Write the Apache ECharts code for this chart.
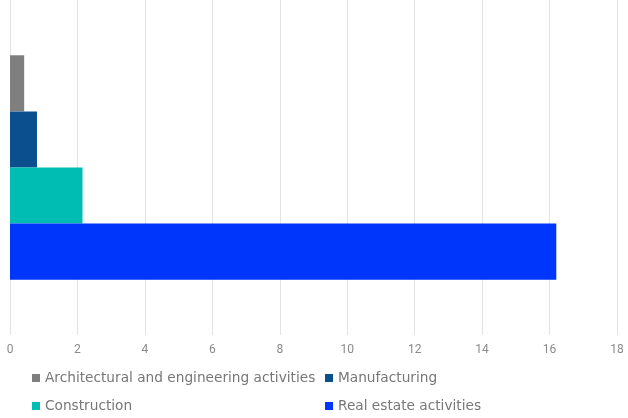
<!DOCTYPE html>
<html><head><meta charset="utf-8">
<script src="https://cdn.jsdelivr.net/npm/echarts@6/dist/echarts.min.js"></script>
<style>html,body{margin:0;padding:0;background:#fff}#c{width:628px;height:418px}</style>
</head><body><div id="c"></div>
<script>
const categories = ['Sector'];
const seriesNames = ['Architectural and engineering activities', 'Manufacturing', 'Construction', 'Real estate activities'];
const seriesValues = [[0.42], [0.8], [2.15], [16.2]];
const seriesColors = ['#7f7f7f', '#0b4f8f', '#00bdb4', '#0035fb'];
const xTicks = [0, 2, 4, 6, 8, 10, 12, 14, 16, 18];

const chart = echarts.init(document.getElementById('c'));
const legendText = { color: '#777', fontSize: 13.7, fontFamily: 'DejaVu Sans', lineHeight: 16 };
chart.setOption({
  animation: false,
  grid: { left: 10, right: 11, top: 0, bottom: 83, containLabel: false },
  xAxis: {
    type: 'value', min: xTicks[0], max: xTicks[xTicks.length - 1], interval: 2,
    axisLine: { show: false }, axisTick: { show: false },
    axisLabel: { color: '#8a8a8a', fontSize: 12, fontFamily: 'Roboto', margin: 9 },
    splitLine: { lineStyle: { color: '#e3e3e3', width: 1 } }
  },
  yAxis: {
    type: 'category', data: categories, inverse: true,
    axisLine: { show: false }, axisTick: { show: false }, axisLabel: { show: false }
  },
  legend: [
    { data: [seriesNames[0], seriesNames[2]], orient: 'vertical', left: 32, top: 370, height: 48, itemGap: 12,
      padding: 0, itemWidth: 8, itemHeight: 8, icon: 'rect', textStyle: legendText },
    { data: [seriesNames[1], seriesNames[3]], orient: 'vertical', left: 325, top: 370, height: 48, itemGap: 12,
      padding: 0, itemWidth: 8, itemHeight: 8, icon: 'rect', textStyle: legendText }
  ],
  series: seriesNames.map((n, i) => ({
    name: n, type: 'bar', data: seriesValues[i], barGap: '0%', barCategoryGap: '33%',
    itemStyle: { color: seriesColors[i] }
  }))
});
</script></body></html>
